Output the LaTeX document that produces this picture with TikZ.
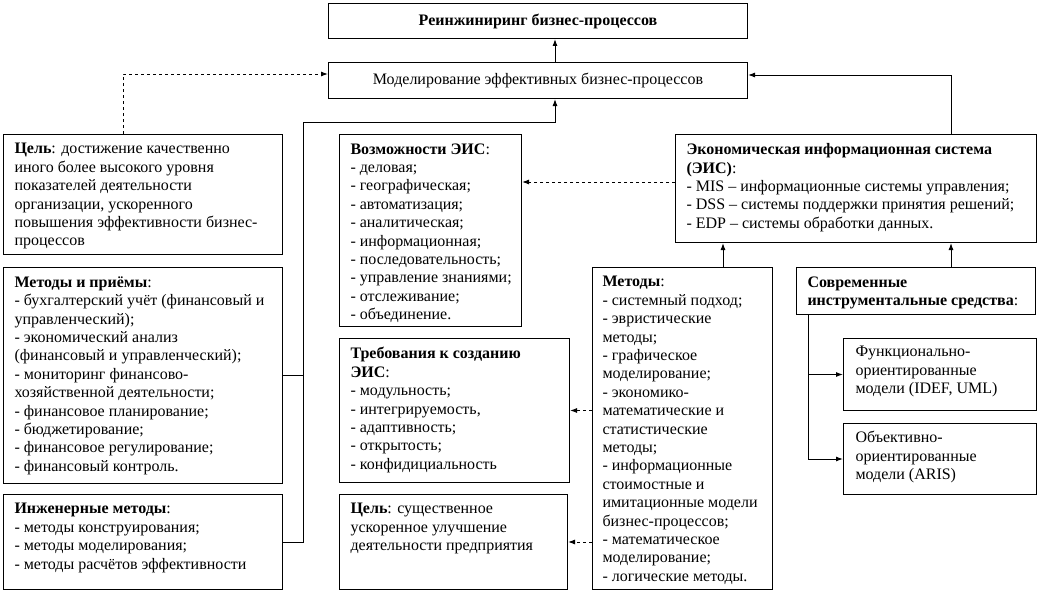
\documentclass[tikz,border=0pt]{standalone}
\usepackage{fontspec}
\setmainfont{Liberation Serif}
\usetikzlibrary{arrows.meta}

\begin{document}
\begin{tikzpicture}[x=1pt, y=-1pt, line width=1pt,
	frame/.style={draw, anchor=north west, inner sep=0pt, font=\fontsize{16}{18.4}\selectfont},
	txt/.style={anchor=north west, align=left, inner sep=0pt, font=\fontsize{16}{18.4}\selectfont, execute at begin node=\strut},
	arr/.style={-{Latex[length=7pt, width=5pt]}},
	dsh/.style={arr, dashed}]
	\useasboundingbox (0,0) rectangle (1038,594);
	% top row
	\node[frame, minimum width=419pt, minimum height=35pt] (reeng) at (328,3) {\textbf{Реинжиниринг бизнес-процессов}};
	\node[frame, minimum width=419pt, minimum height=36pt] (model) at (328,62) {Моделирование эффективных бизнес-процессов};
	% left column
	\node[frame, minimum width=279pt, minimum height=120pt] (goal1) at (3,134) {};
	\node[txt] (goal1t) at ([shift={(11,9)}]goal1.north west) {\textbf{Цель}: достижение качественно\\иного более высокого уровня\\показателей деятельности\\организации, ускоренного\\повышения эффективности бизнес-\\процессов};
	\node[frame, minimum width=279pt, minimum height=216pt] (meth1) at (3,267) {};
	\node[txt] (meth1t) at ([shift={(11,9)}]meth1.north west) {\textbf{Методы и приёмы}:\\- бухгалтерский учёт (финансовый и\\управленческий);\\- экономический анализ\\(финансовый и управленческий);\\- мониторинг финансово-\\хозяйственной деятельности;\\- финансовое планирование;\\- бюджетирование;\\- финансовое регулирование;\\- финансовый контроль.};
	\node[frame, minimum width=279pt, minimum height=95pt] (eng) at (3,494) {};
	\node[txt] (engt) at ([shift={(11,9)}]eng.north west) {\textbf{Инженерные методы}:\\- методы конструирования;\\- методы моделирования;\\- методы расчётов эффективности};
	% middle column
	\node[frame, minimum width=182pt, minimum height=192pt] (abil) at (339,134) {};
	\node[txt] (abilt) at ([shift={(11,9)}]abil.north west) {\textbf{Возможности ЭИС}:\\- деловая;\\- географическая;\\- автоматизация;\\- аналитическая;\\- информационная;\\- последовательность;\\- управление знаниями;\\- отслеживание;\\- объединение.};
	\node[frame, minimum width=230pt, minimum height=144pt] (req) at (339,338) {};
	\node[txt] (reqt) at ([shift={(11,9)}]req.north west) {\textbf{Требования к созданию}\\\textbf{ЭИС}:\\- модульность;\\- интегрируемость,\\- адаптивность;\\- открытость;\\- конфидициальность};
	\node[frame, minimum width=228pt, minimum height=95pt] (goal2) at (339,494) {};
	\node[txt] (goal2t) at ([shift={(11,9)}]goal2.north west) {\textbf{Цель}: существенное\\ускоренное улучшение\\деятельности предприятия};
	\node[frame, minimum width=180pt, minimum height=322pt] (meth2) at (592,267) {};
	\node[txt] (meth2t) at ([shift={(10,9)}]meth2.north west) {\textbf{Методы}:\\- системный подход;\\- эвристические\\методы;\\- графическое\\моделирование;\\- экономико-\\математические и\\статистические\\методы;\\- информационные\\стоимостные и\\имитационные модели\\бизнес-процессов;\\- математическое\\моделирование;\\- логические методы.};
	% right column
	\node[frame, minimum width=361pt, minimum height=108pt] (eis) at (675,134) {};
	\node[txt] (eist) at ([shift={(11,9)}]eis.north west) {\textbf{Экономическая информационная система}\\\textbf{(ЭИС)}:\\- MIS -- информационные системы управления;\\- DSS -- системы поддержки принятия решений;\\- EDP -- системы обработки данных.};
	\node[frame, minimum width=239pt, minimum height=47pt] (tools) at (796,267) {};
	\node[txt] (toolst) at ([shift={(11,9)}]tools.north west) {\textbf{Современные}\\\textbf{инструментальные средства}:};
	\node[frame, minimum width=193pt, minimum height=72pt] (func) at (843,338) {};
	\node[txt] (funct) at ([shift={(12,8)}]func.north west) {Функционально-\\ориентированные\\модели (IDEF, UML)};
	\node[frame, minimum width=193pt, minimum height=71pt] (obj) at (843,423) {};
	\node[txt] (objt) at ([shift={(12,8)}]obj.north west) {Объективно-\\ориентированные\\модели (ARIS)};
	% turning points
	\coordinate (up) at (555,122);
	\coordinate (brk) at (303,542);
	\coordinate (goalup) at (123,74);
	\coordinate (eisup) at (951,75);
	\coordinate (eisdash) at (0,182);
	\coordinate (meth2up) at (723,0);
	\coordinate (toolsdn) at (808,0);
	% connectors
	\draw[arr] (model.north -| up) -- (reeng.south -| up);
	\draw[dsh] (goal1.north -| goalup) |- (model.west |- goalup);
	\draw[arr] (eng.east |- brk) -- (brk) |- (up) -- (model.south -| up);
	\draw (meth1.east) -- (meth1.east -| brk);
	\draw[arr] (eis.north -| eisup) |- (model.east |- eisup);
	\draw[dsh] (eis.west |- eisdash) -- (abil.east |- eisdash);
	\draw[arr] (meth2.north -| meth2up) -- (eis.south -| meth2up);
	\draw[arr] (tools.north -| eisup) -- (eis.south -| eisup);
	\draw[arr] (tools.south -| toolsdn) |- (func.west);
	\draw[arr] (tools.south -| toolsdn) |- (obj.west);
	\draw[dsh] (meth2.west |- req.east) -- (req.east);
	\draw[dsh] (meth2.west |- goal2.east) -- (goal2.east);
\end{tikzpicture}
\end{document}
